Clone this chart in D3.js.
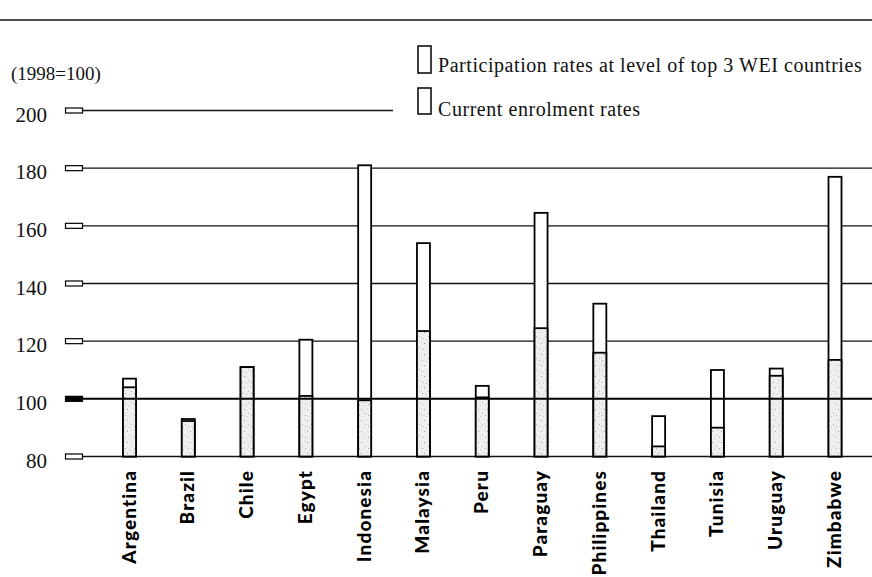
<!DOCTYPE html>
<html><head><meta charset="utf-8">
<script src="https://cdn.jsdelivr.net/npm/d3@7"></script>
<style>body{margin:0;background:#fff}svg{display:block}</style>
</head><body>
<svg id="c" width="872" height="577"></svg>
<script>
const countries = ["Argentina","Brazil","Chile","Egypt","Indonesia","Malaysia","Peru","Paraguay","Philippines","Thailand","Tunisia","Uruguay","Zimbabwe"];
const currentRates = [104, 92.3, 111, 101, 99.5, 123.5, 100.5, 124.5, 116, 83.5, 90, 108, 113.5];
const top3Rates = [107, 93, 111, 120.5, 181, 154, 104.5, 164.5, 133, 94, 110, 110.5, 177];
const yTicks = [80, 100, 120, 140, 160, 180, 200];
const unitLabel = "(1998=100)";
const legendLabels = ["Participation rates at level of top 3 WEI countries", "Current enrolment rates"];

const svg = d3.select("#c");
const y = d3.scaleLinear().domain([80, 200]).range([456.5, 110.5]);
const x = d3.scalePoint().domain(countries).range([129.5, 835]);

// stipple pattern
const defs = svg.append("defs");
const pat = defs.append("pattern").attr("id","stip").attr("patternUnits","userSpaceOnUse")
  .attr("width",9).attr("height",11);
pat.append("rect").attr("width",9).attr("height",11).attr("fill","#efefef");
[[1,2,"#9a9a9a"],[5,6,"#b5b5b5"],[3,9,"#c4c4c4"],[7,1,"#cfcfcf"],[8,8,"#a8a8a8"]].forEach(d=>{
  pat.append("rect").attr("x",d[0]).attr("y",d[1]).attr("width",1).attr("height",1).attr("fill",d[2]);
});

// top rule
svg.append("line").attr("x1",0).attr("x2",872).attr("y1",20).attr("y2",20)
  .attr("stroke","#111").attr("stroke-width",1.4);

// gridlines (except 100)
yTicks.filter(t=>t!==100).forEach(t=>{
  svg.append("line").attr("x1",83).attr("x2", t===200 ? 393 : 872)
    .attr("y1",y(t)).attr("y2",y(t)).attr("stroke","#111").attr("stroke-width",1.4);
});

// tick markers
svg.selectAll(".tm").data(yTicks).join("rect").attr("class","tm")
  .attr("x",65.5).attr("width",17).attr("y",d=>y(d)-2.5).attr("height",5)
  .attr("fill",d=>d===100?"#000":"#fff").attr("stroke","#000").attr("stroke-width",1.2);

// tick labels
svg.selectAll(".tl").data(yTicks).join("text").attr("class","tl")
  .attr("x",47).attr("y",d=>y(d)+11).attr("text-anchor","end")
  .attr("font-family","Liberation Serif").attr("font-size",21).attr("fill","#111")
  .text(d=>d);
svg.append("text").attr("x",11).attr("y",80).attr("font-family","Liberation Serif")
  .attr("font-size",19).attr("fill","#111").text(unitLabel);

// bars
const bw = 13;
const g = svg.append("g");
countries.forEach((c,i)=>{
  g.append("rect").attr("x",x(c)-bw/2).attr("width",bw)
    .attr("y",y(top3Rates[i])).attr("height",y(80)-y(top3Rates[i]))
    .attr("fill","#fff").attr("stroke","#000").attr("stroke-width",1.8);
  g.append("rect").attr("x",x(c)-bw/2).attr("width",bw)
    .attr("y",y(currentRates[i])).attr("height",y(80)-y(currentRates[i]))
    .attr("fill","url(#stip)").attr("stroke","#000").attr("stroke-width",1.8);
});

// 100 line on top
svg.append("line").attr("x1",83).attr("x2",872).attr("y1",y(100)).attr("y2",y(100))
  .attr("stroke","#000").attr("stroke-width",2);

// country labels
svg.selectAll(".cl").data(countries).join("text").attr("class","cl")
  .attr("transform",d=>`translate(${x(d)+6},470) rotate(-90)`)
  .attr("text-anchor","end").attr("font-family","Lato").attr("font-weight","900")
  .attr("font-size",19).attr("letter-spacing",1.1).attr("fill","#000").text(d=>d);

// legend
const lg = svg.append("g");
lg.append("rect").attr("x",418).attr("y",46).attr("width",13).attr("height",27)
  .attr("fill","#fff").attr("stroke","#000").attr("stroke-width",1.5);
lg.append("rect").attr("x",418).attr("y",88).attr("width",13).attr("height",26)
  .attr("fill","#fff").attr("stroke","#000").attr("stroke-width",1.5);
lg.append("text").attr("x",438).attr("y",72).attr("font-family","Liberation Serif")
  .attr("font-size",20).attr("letter-spacing",0.55).attr("fill","#111").text(legendLabels[0]);
lg.append("text").attr("x",438).attr("y",116).attr("font-family","Liberation Serif")
  .attr("font-size",20).attr("letter-spacing",0.55).attr("fill","#111").text(legendLabels[1]);
</script>
</body></html>
